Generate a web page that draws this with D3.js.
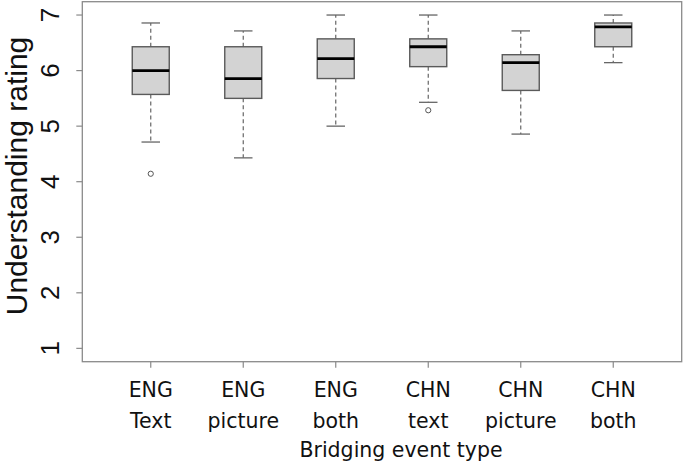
<!DOCTYPE html>
<html>
<head>
<meta charset="utf-8">
<script src="https://cdn.jsdelivr.net/npm/d3@7"></script>
<style>
  body { margin: 0; background: #fff; }
  svg { display: block; }
</style>
</head>
<body>
<div id="chart"></div>
<script>
// Data (ratings look like multiples of 1/7)
const groups = ["ENG\nText", "ENG\npicture", "ENG\nboth", "CHN\ntext", "CHN\npicture", "CHN\nboth"];
const whiskerLow = [4.714, 4.429, 5.0, 5.429, 4.857, 6.143];
const q1 = [5.571, 5.5, 5.857, 6.071, 5.643, 6.429];
const medians = [6.0, 5.857, 6.214, 6.429, 6.143, 6.786];
const q3 = [6.429, 6.429, 6.571, 6.571, 6.286, 6.857];
const whiskerHigh = [6.857, 6.714, 7.0, 7.0, 6.714, 7.0];
const outliers = [[4.143], [], [], [5.286], [], []];
const yTicks = [1, 2, 3, 4, 5, 6, 7];

const W = 685, H = 465;
// plot frame
const plotLeft = 82.3, plotRight = 681.7, plotTop = 1.7, plotBottom = 361.7;

const svg = d3.select("#chart").append("svg")
  .attr("width", W)
  .attr("height", H);

// scales, R style: 4% padding on each side
const x = d3.scaleLinear().domain([0.26, 6.74]).range([plotLeft, plotRight]);
const y = d3.scaleLinear().domain([0.76, 7.24]).range([plotBottom, plotTop]);
const boxW = x(1.4) - x(1);   // box width 0.8
const capW = x(1.2) - x(1);   // cap width 0.4

const data = groups.map((g, i) => ({
  label: g,
  pos: i + 1,
  lo: whiskerLow[i], q1: q1[i], med: medians[i], q3: q3[i], hi: whiskerHigh[i],
  out: outliers[i]
}));

const frameColor = "#8a8a8a";

// Boxes
const boxes = svg.append("g").selectAll("g")
  .data(data)
  .join("g");

// dashed whiskers
boxes.append("line")
  .attr("x1", d => x(d.pos)).attr("x2", d => x(d.pos))
  .attr("y1", d => y(d.q3)).attr("y2", d => y(d.hi))
  .attr("stroke", "#666").attr("stroke-width", 1.2)
  .attr("stroke-dasharray", "4,3");
boxes.append("line")
  .attr("x1", d => x(d.pos)).attr("x2", d => x(d.pos))
  .attr("y1", d => y(d.q1)).attr("y2", d => y(d.lo))
  .attr("stroke", "#666").attr("stroke-width", 1.2)
  .attr("stroke-dasharray", "4,3");

// whisker caps
boxes.selectAll(".cap")
  .data(d => [d.lo, d.hi].map(v => ({ pos: d.pos, v })))
  .join("line")
  .attr("class", "cap")
  .attr("x1", d => x(d.pos) - capW / 2).attr("x2", d => x(d.pos) + capW / 2)
  .attr("y1", d => y(d.v)).attr("y2", d => y(d.v))
  .attr("stroke", "#666").attr("stroke-width", 1.3);

// box body
boxes.append("rect")
  .attr("x", d => x(d.pos) - boxW / 2)
  .attr("width", boxW)
  .attr("y", d => y(d.q3))
  .attr("height", d => y(d.q1) - y(d.q3))
  .attr("fill", "#d3d3d3")
  .attr("stroke", "#5a5a5a")
  .attr("stroke-width", 1.4);

// median
boxes.append("line")
  .attr("x1", d => x(d.pos) - boxW / 2).attr("x2", d => x(d.pos) + boxW / 2)
  .attr("y1", d => y(d.med)).attr("y2", d => y(d.med))
  .attr("stroke", "#000").attr("stroke-width", 2.8);

// outliers
boxes.selectAll("circle")
  .data(d => d.out.map(v => ({ pos: d.pos, v })))
  .join("circle")
  .attr("cx", d => x(d.pos))
  .attr("cy", d => y(d.v))
  .attr("r", 2.6)
  .attr("fill", "none")
  .attr("stroke", "#555")
  .attr("stroke-width", 1);

// Frame
svg.append("rect")
  .attr("x", plotLeft).attr("y", plotTop)
  .attr("width", plotRight - plotLeft).attr("height", plotBottom - plotTop)
  .attr("fill", "none")
  .attr("stroke", frameColor)
  .attr("stroke-width", 1.3);

// Y axis ticks and labels (rotated, R default las=0)
svg.append("g").selectAll("line")
  .data(yTicks)
  .join("line")
  .attr("x1", plotLeft - 6).attr("x2", plotLeft)
  .attr("y1", d => y(d)).attr("y2", d => y(d))
  .attr("stroke", frameColor).attr("stroke-width", 1.2);

svg.append("g").selectAll("text")
  .data(yTicks)
  .join("text")
  .attr("transform", d => `translate(59,${y(d)}) rotate(-90)`)
  .attr("text-anchor", "middle")
  .attr("font-family", "Liberation Sans, Arial, sans-serif")
  .attr("font-size", 26)
  .attr("fill", "#111")
  .text(d => d);

// X axis ticks and two-line labels
svg.append("g").selectAll("line")
  .data(data)
  .join("line")
  .attr("x1", d => x(d.pos)).attr("x2", d => x(d.pos))
  .attr("y1", plotBottom).attr("y2", plotBottom + 6)
  .attr("stroke", frameColor).attr("stroke-width", 1.2);

const xLabels = svg.append("g").selectAll("text")
  .data(data)
  .join("text")
  .attr("text-anchor", "middle")
  .attr("font-family", "DejaVu Sans, sans-serif")
  .attr("font-size", 20.5)
  .attr("fill", "#111");
xLabels.selectAll("tspan")
  .data(d => d.label.split("\n").map((t, i) => ({ t, i, pos: d.pos })))
  .join("tspan")
  .attr("x", d => x(d.pos))
  .attr("y", d => 397 + d.i * 30.5)
  .text(d => d.t);

// Axis titles
svg.append("text")
  .attr("x", 401)
  .attr("y", 457)
  .attr("text-anchor", "middle")
  .attr("font-family", "DejaVu Sans, sans-serif")
  .attr("font-size", 20.5)
  .attr("fill", "#111")
  .text("Bridging event type");

svg.append("text")
  .attr("transform", "translate(27,176) rotate(-90)")
  .attr("text-anchor", "middle")
  .attr("font-family", "Liberation Sans, Arial, sans-serif")
  .attr("font-size", 30)
  .attr("fill", "#111")
  .text("Understanding rating");
</script>
</body>
</html>
